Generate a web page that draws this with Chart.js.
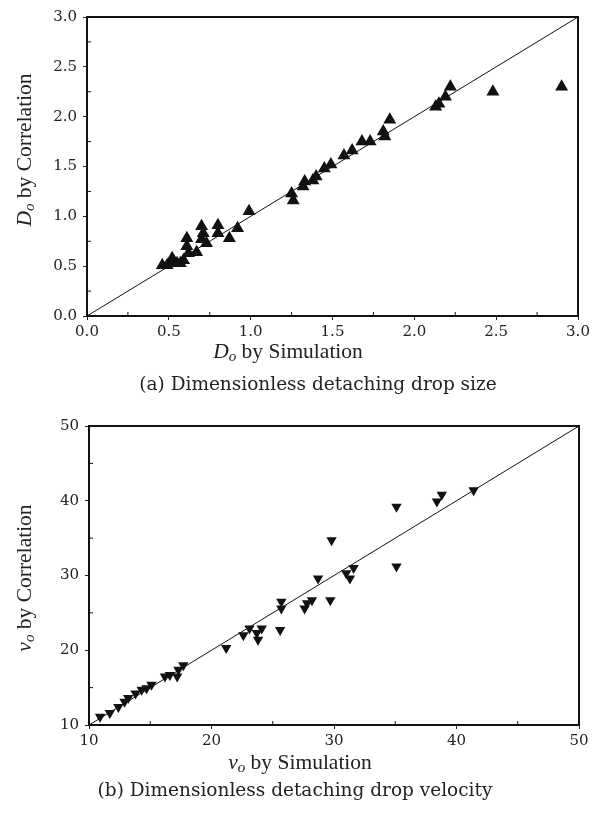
<!DOCTYPE html>
<html>
<head>
<meta charset="utf-8">
<script src="https://cdn.jsdelivr.net/npm/chart.js@4/dist/chart.umd.min.js"></script>
<style>
  body { margin: 0; background: #fff; width: 595px; height: 814px; position: relative; overflow: hidden;
         font-family: 'Liberation Serif', 'DejaVu Serif', serif; color: #222; }
  canvas { position: absolute; left: 0; }
  .lbl { position: absolute; white-space: nowrap; transform: translate(-50%, -50%); font-size: 21.5px; }
  .rot { transform: translate(-50%, -50%) rotate(-90deg); }
  .cap { font-family: 'DejaVu Serif', serif; font-size: 18.5px; }
  sub { font-size: 0.7em; vertical-align: -0.25em; }
</style>
</head>
<body>
<canvas id="sizeChart" width="595" height="400" style="top:0"></canvas>
<canvas id="velChart" width="595" height="414" style="top:400px"></canvas>

<div class="lbl rot" style="left:25px;top:150px"><i>D</i><sub><i>o</i></sub> by Correlation</div>
<div class="lbl" style="left:288px;top:352px"><i>D</i><sub><i>o</i></sub> by Simulation</div>
<div class="lbl cap" style="left:318px;top:383px">(a) Dimensionless detaching drop size</div>

<div class="lbl rot" style="left:25px;top:578px"><i>v</i><sub><i>o</i></sub> by Correlation</div>
<div class="lbl" style="left:300px;top:763px"><i>v</i><sub><i>o</i></sub> by Simulation</div>
<div class="lbl cap" style="left:295px;top:789px">(b) Dimensionless detaching drop velocity</div>

<script>
// (a) drop size
const sizeSimulation = [0.46, 0.49, 0.52, 0.53, 0.55, 0.57, 0.59, 0.61, 0.61, 0.62, 0.67, 0.70, 0.71, 0.70, 0.73,
  0.80, 0.80, 0.87, 0.92, 0.99, 1.25, 1.26, 1.32, 1.33, 1.38, 1.40, 1.45, 1.49, 1.57, 1.62, 1.68, 1.73,
  1.81, 1.82, 1.85, 2.13, 2.15, 2.19, 2.22, 2.48, 2.90];
const sizeCorrelation = [0.51, 0.51, 0.58, 0.55, 0.53, 0.53, 0.56, 0.78, 0.70, 0.63, 0.64, 0.90, 0.83, 0.77, 0.73,
  0.91, 0.83, 0.78, 0.88, 1.05, 1.23, 1.16, 1.30, 1.35, 1.36, 1.40, 1.48, 1.52, 1.61, 1.66, 1.75, 1.75,
  1.85, 1.80, 1.97, 2.10, 2.13, 2.20, 2.30, 2.25, 2.30];
const sizeTicks = ['0.0', '0.5', '1.0', '1.5', '2.0', '2.5', '3.0'];
const sizeDiagonal = [0, 3];

// (b) drop velocity
const velSimulation = [10.9, 11.7, 12.4, 12.9, 13.2, 13.8, 14.3, 14.7, 15.1, 16.2, 16.6, 17.2, 17.3, 17.7,
  21.2, 22.6, 23.1, 23.7, 23.8, 24.1, 25.6, 25.7, 25.7, 27.6, 27.8, 28.2, 28.7, 29.7, 29.8,
  31.0, 31.3, 31.6, 35.1, 35.1, 38.4, 38.8, 41.4];
const velCorrelation = [11.1, 11.6, 12.4, 13.1, 13.6, 14.2, 14.7, 14.9, 15.4, 16.5, 16.7, 16.5, 17.4, 18.0,
  20.3, 22.0, 22.9, 22.3, 21.4, 22.9, 22.7, 25.6, 26.5, 25.6, 26.3, 26.7, 29.6, 26.7, 34.7,
  30.3, 29.6, 31.0, 39.2, 31.2, 39.9, 40.8, 41.4];
const velTicks = ['10', '20', '30', '40', '50'];
const velDiagonal = [10, 50];

// box around the plot area + small inward minor ticks
const framePlugin = {
  id: 'frame',
  afterDraw(chart, args, opts) {
    const { ctx, chartArea: a, scales: { x, y } } = chart;
    ctx.save();
    ctx.strokeStyle = '#111';
    ctx.lineWidth = 1;
    ctx.beginPath();
    for (let v = x.min + opts.minor; v < x.max; v += 2 * opts.minor) {
      const px = x.getPixelForValue(v);
      ctx.moveTo(px, a.bottom); ctx.lineTo(px, a.bottom - 4);
    }
    for (let v = y.min + opts.minor; v < y.max; v += 2 * opts.minor) {
      const py = y.getPixelForValue(v);
      ctx.moveTo(a.left, py); ctx.lineTo(a.left + 4, py);
    }
    ctx.stroke();
    ctx.lineWidth = 2;
    ctx.strokeRect(a.left, a.top, a.right - a.left, a.bottom - a.top);
    ctx.restore();
  }
};

function axis(min, max, step, labels, fit, pad) {
  return {
    type: 'linear', min: min, max: max,
    afterFit: fit,
    border: { display: false },
    grid: { drawOnChartArea: false, drawTicks: true, tickLength: 4, color: '#222' },
    ticks: {
      stepSize: step, padding: pad, color: '#222',
      font: { family: 'DejaVu Serif', size: 15 },
      callback: (v, i) => labels[i]
    }
  };
}

function makeChart(id, sim, cor, diag, labels, step, minor, pad, radius, rotation) {
  new Chart(document.getElementById(id), {
    type: 'scatter',
    data: {
      datasets: [
        {
          data: sim.map((v, i) => ({ x: v, y: cor[i] })),
          pointStyle: 'triangle', pointRotation: rotation, pointRadius: radius,
          backgroundColor: '#111', borderColor: '#111', borderWidth: 0
        },
        {
          type: 'line',
          data: diag.map(v => ({ x: v, y: v })),
          borderColor: '#111', borderWidth: 1, pointRadius: 0
        }
      ]
    },
    options: {
      responsive: false,
      animation: false,
      devicePixelRatio: 1,
      layout: { padding: pad },
      plugins: { legend: { display: false }, tooltip: { enabled: false }, frame: { minor: minor } },
      scales: {
        x: axis(diag[0], diag[1], step, labels, s => { s.height = 30; }, 3),
        y: axis(diag[0], diag[1], step, labels, s => { s.width = 87; }, 6)
      }
    },
    plugins: [framePlugin]
  });
}

makeChart('sizeChart', sizeSimulation, sizeCorrelation, sizeDiagonal, sizeTicks, 0.5, 0.25,
  { left: 0, right: 17, top: 17, bottom: 54 }, 7.5, 0);
makeChart('velChart', velSimulation, velCorrelation, velDiagonal, velTicks, 10, 5,
  { left: 2, right: 16, top: 26, bottom: 59 }, 6, 180);
</script>
</body>
</html>
